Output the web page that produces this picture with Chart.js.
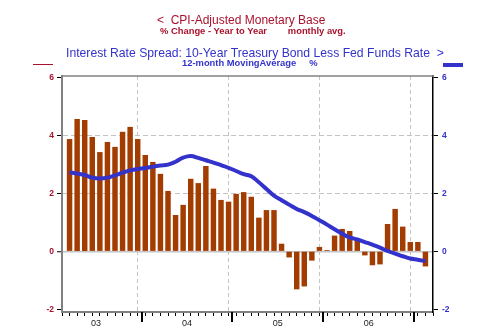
<!DOCTYPE html>
<html lang="en">
<head>
  <meta charset="UTF-8">
  <title>CPI-Adjusted Monetary Base vs Interest Rate Spread</title>
  <script src="https://cdn.jsdelivr.net/npm/chart.js"></script>
  <style>
    body { margin: 0; background: #fff; }
    #box { position: relative; width: 500px; height: 330px; font-family: "Liberation Sans", Arial, sans-serif; }
    #box canvas { position: absolute; left: 0; top: 0; }
    .t { position: absolute; white-space: pre; line-height: 1; }
    .rosso { color: #a8122c; }
    .blu { color: #3333cc; }
  </style>
</head>
<body>
  <div id="box">
    <canvas id="grafico" width="500" height="330"></canvas>
    <div class="t rosso" style="left:157px; top:13.8px; font-size:12px;">&lt;  CPI-Adjusted Monetary Base</div>
    <div class="t rosso" style="left:160px; top:26.3px; font-size:9.4px; font-weight:bold;">% Change - Year to Year        monthly avg.</div>
    <div class="t blu" style="left:66px; top:47px; font-size:12.2px;">Interest Rate Spread: 10-Year Treasury Bond Less Fed Funds Rate  &gt;</div>
    <div class="t blu" style="left:182px; top:58.3px; font-size:9.4px; font-weight:bold;">12-month MovingAverage     %</div>
    <div style="position:absolute; left:33px; top:64px; width:20px; height:1px; background:#a8122c;"></div>
    <div style="position:absolute; left:443px; top:63px; width:20px; height:3.5px; background:#3333cc;"></div>
  </div>

  <script>
    // mesi da marzo 2003 a febbraio 2007
    const mesi = [
      '2003-03', '2003-04', '2003-05', '2003-06', '2003-07', '2003-08', '2003-09', '2003-10', '2003-11', '2003-12',
      '2004-01', '2004-02', '2004-03', '2004-04', '2004-05', '2004-06', '2004-07', '2004-08', '2004-09', '2004-10', '2004-11', '2004-12',
      '2005-01', '2005-02', '2005-03', '2005-04', '2005-05', '2005-06', '2005-07', '2005-08', '2005-09', '2005-10', '2005-11', '2005-12',
      '2006-01', '2006-02', '2006-03', '2006-04', '2006-05', '2006-06', '2006-07', '2006-08', '2006-09', '2006-10', '2006-11', '2006-12',
      '2007-01', '2007-02'
    ];

    // base monetaria deflazionata, % anno su anno
    const baseMonetaria = [
      3.86, 4.55, 4.52, 3.93, 3.41, 3.76, 3.59, 4.11, 4.28, 3.86,
      3.31, 3.07, 2.66, 2.07, 1.24, 1.59, 2.49, 2.34, 2.93, 2.15, 1.76, 1.70,
      1.97, 2.03, 1.87, 1.15, 1.41, 1.41, 0.25, -0.20, -1.30, -1.20, -0.31, 0.14,
      0.03, 0.53, 0.76, 0.69, 0.41, -0.13, -0.47, -0.44, 0.93, 1.45, 0.84, 0.31,
      0.31, -0.51
    ];

    // spread 10 anni - fed funds, media mobile 12 mesi
    const spread = [
      2.72, 2.68, 2.63, 2.54, 2.51, 2.54, 2.62, 2.71, 2.79, 2.84,
      2.87, 2.92, 2.96, 2.99, 3.09, 3.23, 3.29, 3.22, 3.14, 3.06, 2.97, 2.88,
      2.77, 2.66, 2.59, 2.38, 2.15, 1.92, 1.76, 1.61, 1.46, 1.35, 1.22, 1.07,
      0.92, 0.76, 0.61, 0.48, 0.41, 0.32, 0.23, 0.13, 0.01, -0.08, -0.17, -0.25,
      -0.29, -0.34
    ];

    const etichetteY = [-2, 0, 2, 4, 6];
    const yMin = -2.093;
    const yMax = 6.045;

    const rosso = '#a8122c';
    const blu = '#3333cc';

    Chart.defaults.font.family = '"Liberation Sans", Arial, sans-serif';

    // mese (0-11) del primo dato
    const meseIniziale = parseInt(mesi[0].slice(5), 10) - 1;
    const annoIniziale = parseInt(mesi[0].slice(0, 4), 10);

    // v = bordo sinistro del mese v-esimo
    function inizioAnno(v) {
      return (v + meseIniziale) % 12 === 0 && v > 0 && v < mesi.length;
    }
    function centroAnno(v) {
      return (v + meseIniziale) % 12 === 6;
    }
    function etichettaAnno(v) {
      if (!centroAnno(v)) return '';
      const anno = annoIniziale + Math.floor((v + meseIniziale) / 12);
      return String(anno % 100).padStart(2, '0');
    }

    const cornice = {
      id: 'cornice',
      afterDraw(chart) {
        const { ctx, chartArea: a, scales: { x } } = chart;
        ctx.save();
        ctx.strokeStyle = '#808080';
        ctx.lineWidth = 1.5;
        ctx.beginPath();
        ctx.moveTo(a.left, a.top);
        ctx.lineTo(a.right, a.top);
        ctx.stroke();
        // tacche lunghe a inizio anno
        ctx.strokeStyle = '#000';
        ctx.lineWidth = 2;
        x.ticks.forEach(t => {
          if (!inizioAnno(t.value)) return;
          const px = Math.round(x.getPixelForValue(t.value));
          ctx.beginPath();
          ctx.moveTo(px, a.bottom);
          ctx.lineTo(px, a.bottom + 10);
          ctx.stroke();
        });
        ctx.restore();
      }
    };

    new Chart(document.getElementById('grafico'), {
      data: {
        datasets: [{
          type: 'line',
          label: 'Interest Rate Spread',
          data: spread.map((v, i) => ({ x: i + 0.5, y: v })),
          yAxisID: 'y2',
          borderColor: blu,
          borderWidth: 4,
          pointRadius: 0,
          tension: 0.4,
          fill: false,
          order: 0
        }, {
          type: 'bar',
          label: 'CPI-Adjusted Monetary Base',
          data: baseMonetaria.map((v, i) => ({ x: i + 0.5, y: v })),
          yAxisID: 'y',
          backgroundColor: '#a33c00',
          barThickness: 4.8,
          order: 1
        }]
      },
      options: {
        responsive: false,
        animation: false,
        layout: { padding: { top: 76, left: 0, right: 0, bottom: 0 } },
        plugins: { legend: { display: false }, tooltip: { enabled: false } },
        scales: {
          x: {
            type: 'linear',
            min: 0,
            max: mesi.length,
            afterFit: s => { s.height = 18; },
            afterBuildTicks: s => { s.ticks = mesi.map((_, i) => ({ value: i })).concat([{ value: mesi.length }]); },
            ticks: {
              autoSkip: false,
              maxRotation: 0,
              padding: 2,
              color: '#222',
              font: { size: 9 },
              callback: v => etichettaAnno(v)
            },
            grid: {
              color: c => (c.tick && inizioAnno(c.tick.value)) ? '#c4c4c4' : 'rgba(0,0,0,0)',
              lineWidth: 1,
              tickColor: '#000',
              tickLength: 4,
              tickWidth: 1
            },
            border: {
              color: '#808080',
              width: 2,
              dash: c => (c.tick && inizioAnno(c.tick.value)) ? [4, 3] : []
            }
          },
          y: {
            position: 'left',
            min: yMin,
            max: yMax,
            afterFit: s => { s.width = 62; },
            afterBuildTicks: s => { s.ticks = etichetteY.map(v => ({ value: v })); },
            ticks: {
              color: rosso,
              padding: 3,
              font: { size: 8.5, weight: 'bold' }
            },
            grid: {
              color: c => {
                if (!c.tick) return 'rgba(0,0,0,0)';
                const v = c.tick.value;
                return (v === 0 || v === 2 || v === 4) ? '#c4c4c4' : 'rgba(0,0,0,0)';
              },
              lineWidth: c => (c.tick && c.tick.value === 0) ? 1.5 : 1,
              tickColor: '#000',
              tickLength: 5,
              tickWidth: 1
            },
            border: {
              color: '#808080',
              width: 2,
              dash: c => (c.tick && c.tick.value !== 0) ? [5, 3] : []
            }
          },
          y2: {
            position: 'right',
            min: yMin,
            max: yMax,
            afterFit: s => { s.width = 67; },
            afterBuildTicks: s => { s.ticks = etichetteY.map(v => ({ value: v })); },
            ticks: {
              color: blu,
              padding: 4,
              font: { size: 8.5, weight: 'bold' }
            },
            grid: {
              drawOnChartArea: false,
              tickColor: '#000',
              tickLength: 5,
              tickWidth: 1
            },
            border: { color: '#000', width: 1.5 }
          }
        }
      },
      plugins: [cornice]
    });
  </script>
</body>
</html>
